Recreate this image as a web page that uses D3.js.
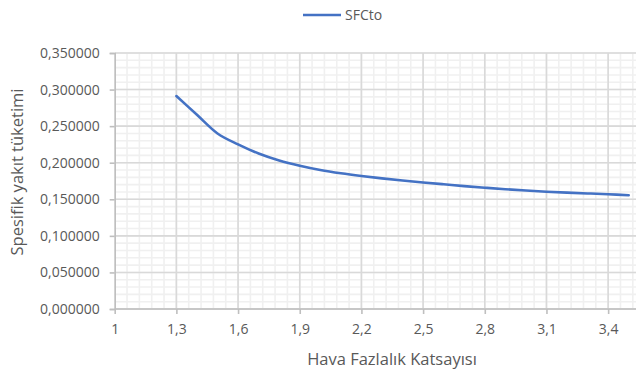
<!DOCTYPE html>
<html>
<head>
<meta charset="utf-8">
<script src="https://cdn.jsdelivr.net/npm/d3@7"></script>
<style>
  html, body { margin: 0; padding: 0; background: #fff; }
  svg { display: block; }
  text { font-family: "Open Sans", sans-serif; fill: #595959; }
</style>
</head>
<body>
<svg id="chart" width="636" height="371"></svg>
<script>
// Hava fazlalık katsayısı (lambda) values
const lambdaValues = [1.3, 1.4, 1.5, 1.6, 1.7, 1.8, 1.9, 2.0, 2.1, 2.2, 2.3, 2.4,
                      2.5, 2.6, 2.7, 2.8, 2.9, 3.0, 3.1, 3.2, 3.3, 3.4, 3.5];
// Specific fuel consumption series (SFCto)
const sfcValues = [0.2912, 0.2655, 0.2400, 0.2250, 0.2125, 0.2030, 0.1958, 0.1900,
                   0.1855, 0.1818, 0.1786, 0.1757, 0.1730, 0.1705, 0.1680, 0.1658,
                   0.1638, 0.1620, 0.1604, 0.1591, 0.1580, 0.1569, 0.1555];
const xTickValues = [1, 1.3, 1.6, 1.9, 2.2, 2.5, 2.8, 3.1, 3.4];
const yTickValues = [0, 0.05, 0.10, 0.15, 0.20, 0.25, 0.30, 0.35];
const seriesName = "SFCto";
const xTitle = "Hava Fazlalık Katsayısı";
const yTitle = "Spesifik yakıt tüketimi";

const svg = d3.select("#chart");
const plotLeft = 114.7, plotTop = 53, plotBottom = 309, plotRight = 636;
const x = d3.scaleLinear().domain([1, 3.55]).range([plotLeft, plotLeft + 2.55 * 205.6]);
const y = d3.scaleLinear().domain([0, 0.35]).range([plotBottom, plotTop]);

const fmtY = v => d3.format(".6f")(v).replace(".", ",");
const fmtX = v => String(v).replace(".", ",");

svg.append("clipPath").attr("id", "plotClip")
  .append("rect").attr("x", plotLeft).attr("y", plotTop - 2)
  .attr("width", plotRight - plotLeft).attr("height", plotBottom - plotTop + 4);

const grid = svg.append("g").attr("clip-path", "url(#plotClip)");

// minor gridlines
const xMinor = d3.range(0, 43).map(i => 1 + i * 0.06).filter(v => v <= 3.55);
const yMinor = d3.range(0, 36).map(i => i * 0.01);
grid.selectAll(".vminor").data(xMinor).join("line")
  .attr("x1", d => x(d)).attr("x2", d => x(d)).attr("y1", plotTop).attr("y2", plotBottom)
  .attr("stroke", "#f0f0f0").attr("stroke-width", 1.6);
grid.selectAll(".hminor").data(yMinor).join("line")
  .attr("x1", plotLeft).attr("x2", plotRight).attr("y1", d => y(d)).attr("y2", d => y(d))
  .attr("stroke", "#f0f0f0").attr("stroke-width", 1.6);

// major gridlines
const xMajor = d3.range(0, 9).map(i => 1 + i * 0.3);
grid.selectAll(".vmajor").data(xMajor).join("line")
  .attr("x1", d => x(d)).attr("x2", d => x(d)).attr("y1", plotTop).attr("y2", plotBottom)
  .attr("stroke", "#d9d9d9").attr("stroke-width", 1.6);
grid.selectAll(".hmajor").data(yTickValues).join("line")
  .attr("x1", plotLeft).attr("x2", plotRight).attr("y1", d => y(d)).attr("y2", d => y(d))
  .attr("stroke", "#d9d9d9").attr("stroke-width", 1.6);

// axes
const yAxis = d3.axisLeft(y).tickValues(yTickValues).tickFormat(fmtY).tickSize(5).tickPadding(10);
const gy = svg.append("g").attr("transform", `translate(${plotLeft},0)`).call(yAxis);
gy.select(".domain").attr("stroke", "#bfbfbf").attr("stroke-width", 1.6);
gy.selectAll(".tick line").attr("stroke", "#bfbfbf").attr("stroke-width", 1.6);
gy.selectAll(".tick text").attr("font-size", 14).attr("fill", "#595959")
  .style("font-family", "'Open Sans', sans-serif");

const xAxis = d3.axisBottom(x).tickValues(xTickValues).tickFormat(fmtX).tickSize(5).tickPadding(10);
const gx = svg.append("g").attr("transform", `translate(0,${plotBottom})`).call(xAxis);
gx.select(".domain").attr("stroke", "#bfbfbf").attr("stroke-width", 1.6)
  .attr("d", `M${plotLeft},0H${plotRight}`);
gx.selectAll(".tick line").attr("stroke", "#bfbfbf").attr("stroke-width", 1.6);
gx.selectAll(".tick text").attr("font-size", 14).attr("fill", "#595959")
  .style("font-family", "'Open Sans', sans-serif");

// data line
const pts = lambdaValues.map((v, i) => [v, sfcValues[i]]);
const line = d3.line().x(d => x(d[0])).y(d => y(d[1])).curve(d3.curveCatmullRom.alpha(0.5));
svg.append("path").datum(pts).attr("d", line)
  .attr("fill", "none").attr("stroke", "#4472c4").attr("stroke-width", 2.6)
  .attr("stroke-linecap", "round");

// axis titles
svg.append("text").attr("x", 392).attr("y", 365).attr("text-anchor", "middle")
  .attr("font-size", 16.5).text(xTitle);
svg.append("text").attr("transform", "translate(23,172) rotate(-90)")
  .attr("text-anchor", "middle").attr("font-size", 16.5).text(yTitle);

// legend
const lg = svg.append("g");
lg.append("line").attr("x1", 303).attr("x2", 341).attr("y1", 15).attr("y2", 15)
  .attr("stroke", "#4472c4").attr("stroke-width", 2.6);
lg.append("text").attr("x", 345).attr("y", 20).attr("font-size", 14).text(seriesName);
</script>
</body>
</html>
